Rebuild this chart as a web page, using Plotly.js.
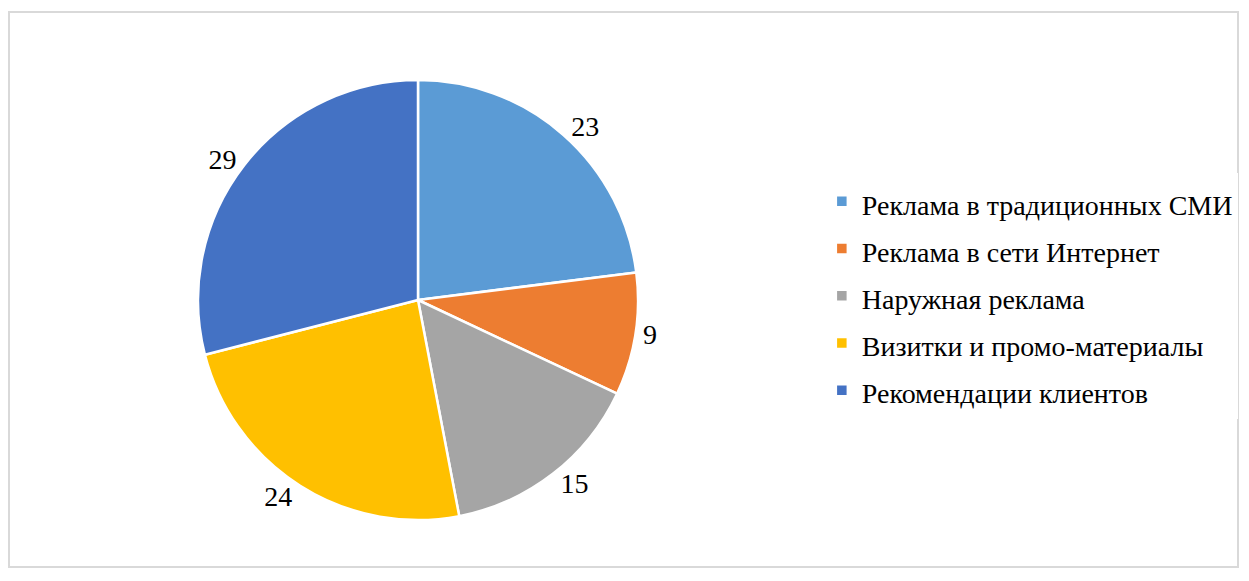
<!DOCTYPE html>
<html>
<head>
<meta charset="utf-8">
<script src="https://cdn.plot.ly/plotly-3.0.1.min.js"></script>
<style>
html,body{margin:0;padding:0;background:#fff;}
#chart{width:1249px;height:581px;}
svg text, svg tspan { font-family: "Liberation Serif", "Times New Roman", serif !important; }
</style>
</head>
<body>
<div id="chart"></div>
<script>
const categories = [
  "Реклама в традиционных СМИ",
  "Реклама в сети Интернет",
  "Наружная реклама",
  "Визитки и промо-материалы",
  "Рекомендации клиентов"
];
const values = [23, 9, 15, 24, 29];
const colors = ["#5B9BD5", "#ED7D31", "#A5A5A5", "#FFC000", "#4472C4"];

const W = 1249, H = 581;
const cx = 418, cy = 300, r = 220;

const trace = {
  type: "pie",
  labels: categories.map(c => '<span style="font-size:28px">' + c + '</span>'),
  values: values,
  sort: false,
  direction: "clockwise",
  textinfo: "value",
  textposition: "outside",
  textfont: {family: "Liberation Serif", size: 28, color: "#000"},
  marker: {colors: colors, line: {color: "#ffffff", width: 2.5}},
  domain: {x: [(cx - r) / W, (cx + r) / W], y: [(H - cy - r) / H, (H - cy + r) / H]}
};

const layout = {
  width: W, height: H,
  margin: {l: 0, r: 0, t: 0, b: 0},
  font: {family: "Liberation Serif"},
  legend: {
    x: 0.658, xanchor: "left", y: 0.491, yanchor: "middle",
    font: {family: "Liberation Serif", size: 34, color: "#000"}
  },
  shapes: [{
    type: "rect", xref: "paper", yref: "paper",
    x0: 9 / W, x1: 1238 / W, y0: (H - 567) / H, y1: (H - 12) / H,
    line: {color: "#d9d9d9", width: 2}
  }]
};

Plotly.newPlot("chart", [trace], layout, {displayModeBar: false, staticPlot: true});
</script>
</body>
</html>
